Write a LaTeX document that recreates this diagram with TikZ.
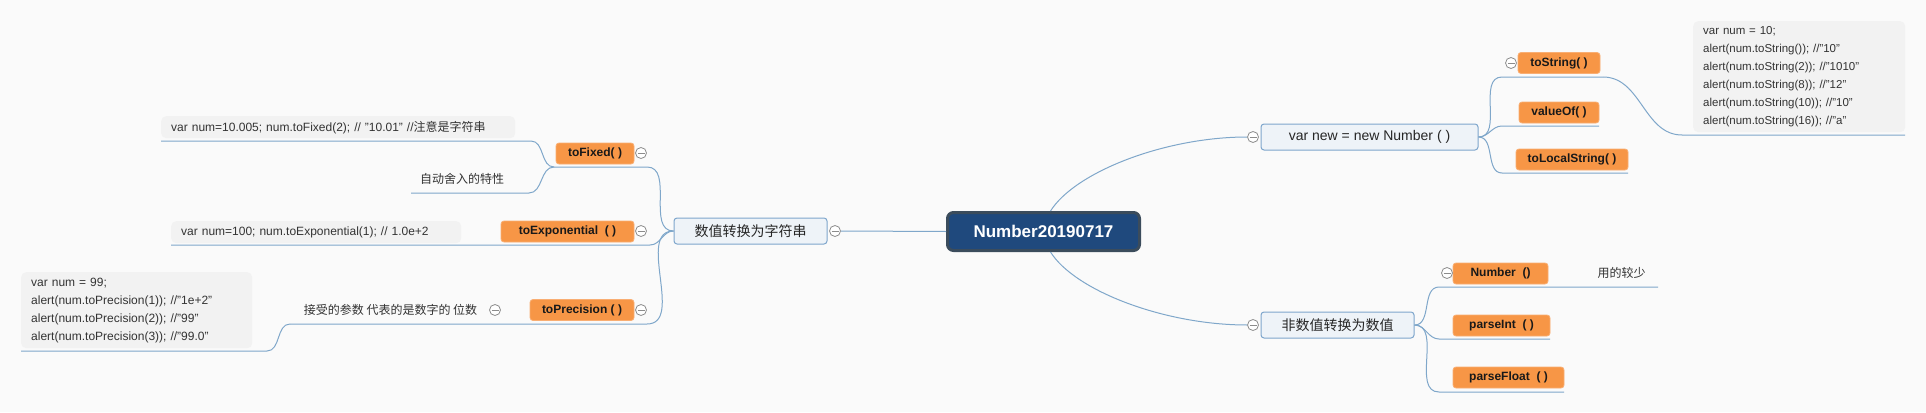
\documentclass[tikz,border=0pt]{standalone}
\usepackage{fontspec}
\setmainfont{Liberation Sans}
\newfontfamily\cjkfont{Noto Sans CJK SC}
\newcommand\zh[1]{{\cjkfont #1}}
\usetikzlibrary{positioning}
\definecolor{bgcol}{HTML}{FAFAFA}
\definecolor{linecol}{HTML}{7FA7CA}
\definecolor{rootfill}{HTML}{1F497D}
\definecolor{rootline}{HTML}{3B4C5C}
\definecolor{subfill}{HTML}{EEF3F8}
\definecolor{subline}{HTML}{7EA6CC}
\definecolor{methodfill}{HTML}{F79646}
\definecolor{methodline}{HTML}{F9AE73}
\definecolor{codefill}{HTML}{F2F2F2}
\definecolor{foldline}{HTML}{8C8C8C}
\tikzset{%
  topic/.style={draw=rootline, line width=3pt, fill=rootfill, rounded corners=6pt, text=white,
    font=\fontsize{17}{19}\selectfont\bfseries, minimum width=192pt, minimum height=38pt, inner sep=0pt},
  subtopic/.style={draw=subline, line width=1pt, fill=subfill, rounded corners=3pt, text=black!85,
    font=\fontsize{14}{16}\selectfont, minimum height=26pt, inner sep=0pt},
  method/.style={draw=methodline, line width=0.8pt, fill=methodfill, rounded corners=3pt, text=black!90,
    font=\fontsize{12}{14}\selectfont\bfseries, minimum height=21pt, inner sep=0pt},
  codebox/.style={fill=codefill, rounded corners=5pt, anchor=north west, align=left, inner xsep=10pt,
    inner ysep=0pt, text=black!80, font=\fontsize{12}{18}\selectfont},
  note/.style={text=black!80, font=\fontsize{12}{14}\selectfont\cjkfont, inner sep=0pt},
  fold/.style={circle, draw=foldline, fill=white, line width=0.8pt, minimum size=11pt, inner sep=0pt,
    path picture={\draw[foldline, line width=0.8pt] ([xshift=2pt]path picture bounding box.west)
      -- ([xshift=-2pt]path picture bounding box.east);}},
  link/.style={draw=linecol, line width=1pt}
}

\begin{document}
\begin{tikzpicture}[x=1pt, y=-1pt]

  \useasboundingbox (0,0) rectangle (1926,412);
  \fill[bgcol] (0,0) rectangle (1926,412);

  \node[topic] (root) at (1043.5,231.5) {Number20190717};

  \node[subtopic, minimum width=153pt] (numstr) at (750.5,231) {\zh{数值转换为字符串}};
  \node[subtopic, minimum width=217pt] (varnew) at (1369.5,137) {var new = new Number ( )};
  \node[subtopic, minimum width=153pt] (nonnum) at (1337.5,325) {\zh{非数值转换为数值}};

  \node[method, minimum width=78pt] (toFixed) at (595,153.5) {toFixed( )};
  \node[method, minimum width=133pt] (toExp) at (567.5,231.5) {toExponential\ \ ( )};
  \node[method, minimum width=104pt] (toPrec) at (582,310) {toPrecision ( )};
  \node[method, minimum width=82pt] (toStr) at (1559,63) {toString( )};
  \node[method, minimum width=80pt] (valOf) at (1559,112.5) {valueOf( )};
  \node[method, minimum width=112pt] (toLoc) at (1572,159.5) {toLocalString( )};
  \node[method, minimum width=95pt] (numFn) at (1500.5,273.5) {Number\ \ ()};
  \node[method, minimum width=97pt] (parInt) at (1501.5,325.5) {parseInt\ \ ( )};
  \node[method, minimum width=111pt] (parFloat) at (1508.5,377.5) {parseFloat\ \ ( )};

  \node[codebox, text width=334pt, minimum height=22pt] (fixCode) at (161,116)
    {var num=10.005; num.toFixed(2); // "10.01" //\zh{注意是字符串}};
  \node[codebox, text width=270pt, minimum height=22pt] (expCode) at (171,221)
    {var num=100; num.toExponential(1); // 1.0e+2};
  \node[codebox, text width=211pt, minimum height=76pt] (precCode) at (21,272)
    {var num = 99;\\alert(num.toPrecision(1)); //”1e+2”\\alert(num.toPrecision(2)); //”99”\\alert(num.toPrecision(3)); //”99.0”};
  \node[codebox, text width=192pt, minimum height=111pt, font=\fontsize{11.5}{18}\selectfont] (strCode) at (1693,21)
    {var num = 10;\\alert(num.toString()); //”10”\\alert(num.toString(2)); //”1010”\\alert(num.toString(8)); //”12”\\alert(num.toString(10)); //”10”\\alert(num.toString(16)); //”a”};

  \node[note] (round) at (462,179) {自动舍入的特性};
  \node[note] (param) at (390.5,310) {接受的参数 代表的是数字的 位数};
  \node[note] (rarely) at (1621.5,273) {用的较少};

  \node[fold] (numstrF) at (835,231) {};
  \node[fold] (toFixedF) at (641,153) {};
  \node[fold] (toExpF) at (641,231) {};
  \node[fold] (toPrecF) at (641,310) {};
  \node[fold] (paramF) at (495,310) {};
  \node[fold] (varnewF) at (1253,137) {};
  \node[fold] (toStrF) at (1511,63) {};
  \node[fold] (nonnumF) at (1253,325) {};
  \node[fold] (numFnF) at (1447,273) {};

  \coordinate (fixL) at (554,167);    \coordinate (fixR) at (647,167);
  \coordinate (expL) at (171,245);    \coordinate (expR) at (650,245);
  \coordinate (precL) at (290,324);   \coordinate (precR) at (647,324);
  \coordinate (fixCodeL) at (161,141); \coordinate (fixCodeR) at (531,141);
  \coordinate (roundL) at (411,193);  \coordinate (roundR) at (529,193);
  \coordinate (precCodeL) at (21,351); \coordinate (precCodeR) at (267,351);
  \coordinate (strL) at (1502,77);    \coordinate (strR) at (1603,77);
  \coordinate (valL) at (1502,126);   \coordinate (valR) at (1599,126);
  \coordinate (locL) at (1502,173);   \coordinate (locR) at (1628,173);
  \coordinate (strCodeL) at (1682,135); \coordinate (strCodeR) at (1905,135);
  \coordinate (numL) at (1439,287);   \coordinate (numR) at (1658,287);
  \coordinate (intL) at (1439,339);   \coordinate (intR) at (1550,339);
  \coordinate (floatL) at (1439,392); \coordinate (floatR) at (1564,392);

  \draw[link] (root.west) -- (numstrF.east);
  \draw[link] ([xshift=7pt]root.north) .. controls (1075,172) and (1165,137) .. (varnewF.west);
  \draw[link] ([xshift=7pt]root.south) .. controls (1075,291) and (1165,325) .. (nonnumF.west);

  \draw[link] (numstr.west) to[out=180,in=0] (fixR) -- (fixL);
  \draw[link] (fixL) to[out=180,in=0] (fixCodeR) -- (fixCodeL);
  \draw[link] (fixL) to[out=180,in=0] (roundR) -- (roundL);
  \draw[link] (numstr.west) to[out=180,in=0] (expR) -- (expL);
  \draw[link] (numstr.west) to[out=180,in=0] (precR) -- (precL);
  \draw[link] (precL) to[out=180,in=0] (precCodeR) -- (precCodeL);

  \draw[link] (varnew.east) to[out=0,in=180] (strL) -- (strR);
  \draw[link] (varnew.east) to[out=0,in=180] (valL) -- (valR);
  \draw[link] (varnew.east) to[out=0,in=180] (locL) -- (locR);
  \draw[link] (strR) to[out=0,in=180] (strCodeL) -- (strCodeR);

  \draw[link] (nonnum.east) to[out=0,in=180] (numL) -- (numR);
  \draw[link] (nonnum.east) to[out=0,in=180] (intL) -- (intR);
  \draw[link] (nonnum.east) to[out=0,in=180] (floatL) -- (floatR);

\end{tikzpicture}
\end{document}
